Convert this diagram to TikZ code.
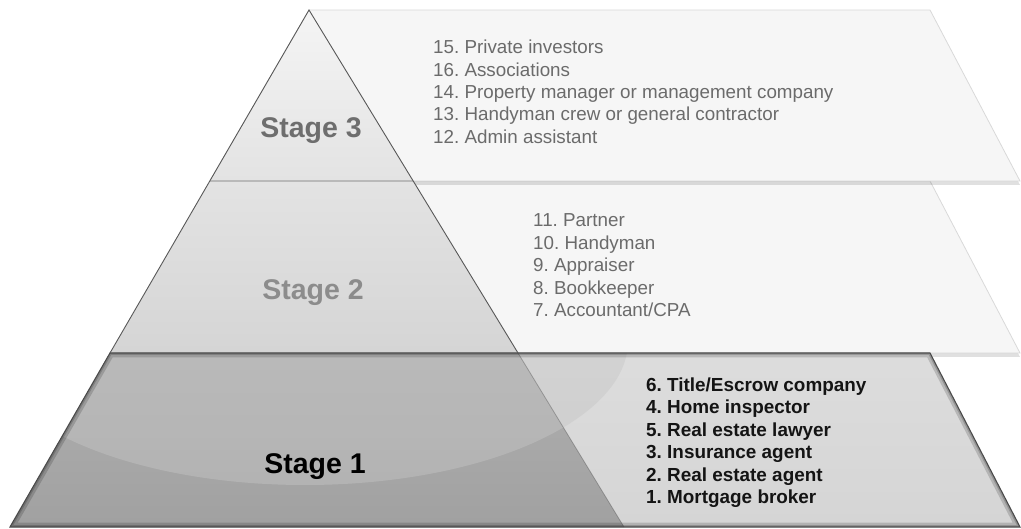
\documentclass[tikz,border=0pt]{standalone}
\usepackage{fontspec}
\setmainfont{Liberation Sans}
\usepackage{xcolor}
\frenchspacing

\definecolor{edgegray}{HTML}{585858}
\definecolor{panelgray}{HTML}{F6F6F6}
\definecolor{panelline}{HTML}{D9D9D9}
\definecolor{textgray}{HTML}{6B6B6B}
\definecolor{labelgray}{HTML}{6E6E6E}
\definecolor{labellight}{HTML}{8C8C8C}

\tikzset{
  panel/.style={fill=panelgray, draw=panelline, line width=0.8pt},
  panelshadow/.style={fill=black, opacity=0.12},
  stagelabel/.style={anchor=base, inner sep=0pt, font=\fontsize{28.5}{30}\selectfont\bfseries},
  item/.style={anchor=base west, inner sep=0pt, font=\fontsize{18.8}{22}\selectfont},
  bolditem/.style={item, font=\fontsize{18.9}{22}\selectfont\bfseries},
}

\begin{document}
\begin{tikzpicture}[x=1pt,y=-1pt]
    \useasboundingbox (0,0) rectangle (1021,529);

    % Corner points of the pyramid:
    \coordinate (apex) at (309,10);
    \coordinate (l3) at (210,181);
    \coordinate (r3) at (413,181);
    \coordinate (l2) at (110,353);
    \coordinate (r2) at (518,353);
    \coordinate (l1) at (10,527);
    \coordinate (r1) at (624,527);

    % Far corners of the side panels:
    \coordinate (p3a) at (930,10);
    \coordinate (p3b) at (1020,181);
    \coordinate (p2a) at (930,181);
    \coordinate (p2b) at (1020,353);
    \coordinate (p1a) at (930,353);
    \coordinate (p1b) at (1020,527);

    % Panels behind the pyramid:
    \fill[panelshadow] (260,184) -- (931,184) -- (1020,357) -- (110,357) -- cycle;
    \path[panel] (260,181) -- (p2a) -- (p2b) -- (l2) -- cycle;
    \fill[panelshadow] (apex) ++(0,3) -- (931,13) -- (1020,185) -- (210,185) -- cycle;
    \path[panel] (apex) -- (p3a) -- (p3b) -- (l3) -- cycle;

    % Stage 3 and stage 2 of the pyramid:
    \shade[top color=gray!8, bottom color=gray!22] (apex) -- (r3) -- (l3) -- cycle;
    \shade[top color=gray!22, bottom color=gray!33] (l3) -- (r3) -- (r2) -- (l2) -- cycle;
    \draw[gray!55, line width=1.2pt] (l3) -- (r3);
    \draw[edgegray, line width=0.9pt] (l2) -- (apex) -- (r2);

    % Stage 1 slab across the whole width:
    \shade[top color=gray!27, bottom color=gray!33] (l2) -- (p1a) -- (p1b) -- (l1) -- cycle;
    \begin{scope}
      \clip (l2) -- (p1a) -- (p1b) -- (l1) -- cycle;
      \shade[top color=gray!62, bottom color=gray!74] (l2) -- (r2) -- (r1) -- (l1) -- cycle;
      % gloss
      \fill[gray!45, opacity=0.45] (305,341) ellipse [x radius=323, y radius=144];
      \draw[gray!50!black, opacity=0.35, line width=0.8pt] (r2) -- (r1);
      % inner shadow along the rim
      \draw[black, opacity=0.16, line width=9pt] (l2) -- (p1a) -- (p1b) -- (l1) -- cycle;
      \draw[black, opacity=0.18, line width=4pt] (l2) -- (p1a) -- (p1b) -- (l1) -- cycle;
    \end{scope}
    \draw[edgegray!85!black, line width=1.1pt] (l2) -- (p1a) -- (p1b) -- (l1) -- cycle;

    % Stage names:
    \node[stagelabel, labelgray] (stage3) at (311,137.5) {Stage 3};
    \node[stagelabel, labellight] (stage2) at (313,300) {Stage 2};
    \node[stagelabel, black] (stage1) at (315,474) {Stage 1};

    % Lists of team members:
    \foreach \t [count=\i] in {15. Private investors, 16. Associations,
        14. Property manager or management company,
        13. Handyman crew or general contractor, 12. Admin assistant}
      \node[item, textgray] (team3-\i) at (433,{54+22.3*(\i-1)}) {\t};

    \foreach \t [count=\i] in {11. Partner, 10. Handyman, 9. Appraiser,
        8. Bookkeeper, 7. Accountant/CPA}
      \node[item, textgray] (team2-\i) at (533,{227+22.5*(\i-1)}) {\t};

    \foreach \t [count=\i] in {6. Title/Escrow company, 4. Home inspector,
        5. Real estate lawyer, 3. Insurance agent, 2. Real estate agent,
        1. Mortgage broker}
      \node[bolditem, black!92] (team1-\i) at (646,{391.5+22.4*(\i-1)}) {\t};
\end{tikzpicture}
\end{document}
